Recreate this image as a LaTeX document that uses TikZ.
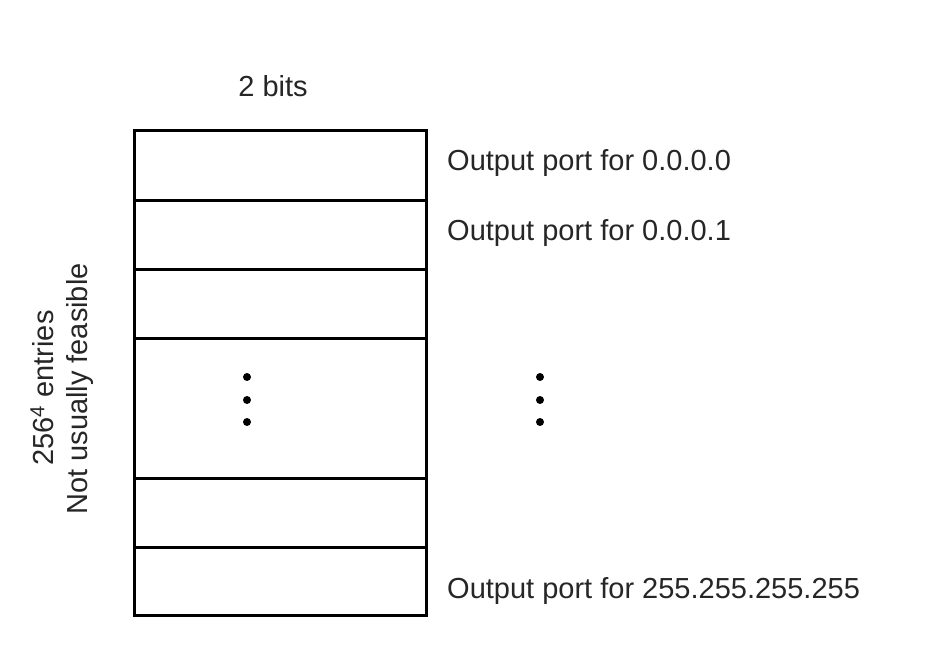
\documentclass[tikz,border=0pt]{standalone}
\usepackage{fontspec}
\setmainfont{Liberation Sans}
\usepackage{tikz}

\begin{document}
\begin{tikzpicture}
          [x=1pt,y=-1pt,
          font=\fontsize{29}{34}\selectfont,
          cell/.style={shape=rectangle,draw=black,line width=3pt,minimum width=292pt,inner sep=0pt,outer sep=0pt},
          port/.style={anchor=west,text=black!85,inner sep=0pt},
          side/.style={rotate=90,text=black!85,inner sep=0pt},
          dot/.style={shape=circle,fill=black,minimum size=8pt,inner sep=0pt}]

          \useasboundingbox (0,0) rectangle (940,652);

            \node (r1) [cell,minimum height=70pt] at (280,166) {};
            \node (r2) [cell,minimum height=69pt] at (280,235.5) {};
            \node (r3) [cell,minimum height=69pt] at (280,304.5) {};
            \node (r4) [cell,minimum height=139pt] at (280,408.5) {};
            \node (r5) [cell,minimum height=69pt] at (280,512.5) {};
            \node (r6) [cell,minimum height=68pt] at (280,581) {};

            \node (bits) [text=black!85] at (273,86) {2 bits};
            \node (p1) [port] at (447,163) {Output port for 0.0.0.0};
            \node (p2) [port] at (447,233) {Output port for 0.0.0.1};
            \node (p6) [port] at (447,591) {Output port for 255.255.255.255};

            \node (entries) [side] at (42,388) {256\textsuperscript{4} entries};
            \node (feasible) [side] at (80,389) {Not usually feasible};

%          dots in the table and beside it
            \foreach \y [count=\i] in {377,400,422} {
              \node (dl\i) [dot] at (247,\y) {};
              \node (dr\i) [dot] at (540,\y) {};
            }

        \end{tikzpicture}
\end{document}
